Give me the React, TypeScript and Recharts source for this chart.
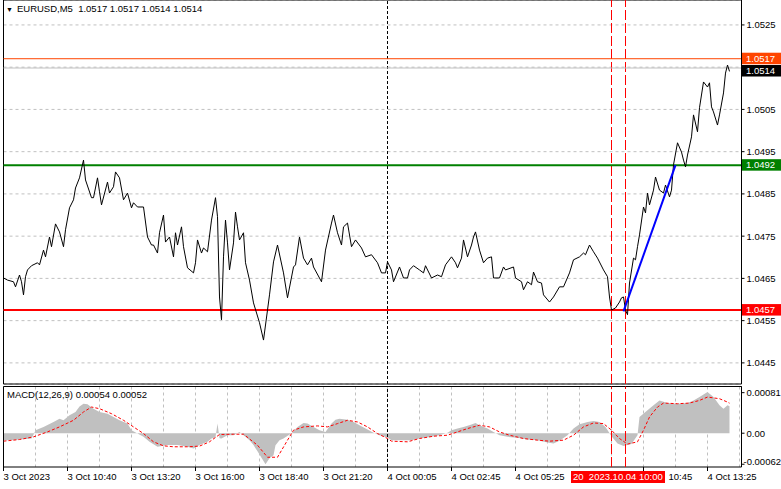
import React from 'react';
import {
  ComposedChart,
  Line,
  Area,
  XAxis,
  YAxis,
  CartesianGrid,
  ReferenceLine,
  ReferenceArea,
} from 'recharts';

const FONT = "Tahoma, 'Liberation Sans', Arial, sans-serif";

// ---- texts ----
const symbolTitle = 'EURUSD,M5  1.0517 1.0517 1.0514 1.0514';
const macdTitle = 'MACD(12,26,9) 0.00054 0.00052';
const crosshairLabel = '20  2023.10.04 10:00';

// ---- time axis (bar index, 5 minute bars) ----
const timeLabels: [number, string][] = [
  [0, '3 Oct 2023'],
  [32, '3 Oct 10:40'],
  [64, '3 Oct 13:20'],
  [96, '3 Oct 16:00'],
  [128, '3 Oct 18:40'],
  [160, '3 Oct 21:20'],
  [192, '4 Oct 00:05'],
  [224, '4 Oct 02:45'],
  [256, '4 Oct 05:25'],
  [320, '10:45'],
  [352, '4 Oct 13:25'],
];
const gridBars = [0, 16, 32, 48, 64, 80, 96, 112, 128, 144, 160, 176, 192, 208, 224, 240, 256, 272, 288, 304, 320, 336, 352, 368];
const barDomain: [number, number] = [0, 369];
const daySeparatorBar = 192;
const markerBars = [304, 311];

// ---- price axis ----
const priceTicks = [1.0445, 1.0455, 1.0465, 1.0475, 1.0485, 1.0495, 1.0505, 1.0515, 1.0525];
const hiddenPriceTick = 1.0515;
const priceDomain: [number, number] = [1.044, 1.05309];

// ---- levels ----
const askLevel = 1.0517;
const bidLevel = 1.05148;
const resistanceLevel = 1.04918;
const supportLevel = 1.04575;

// ---- close prices, day 3 Oct [bar, close] ----
const closesOct3: [number, number][] = [
  [0, 1.04651], [2, 1.04646], [5, 1.04642], [6, 1.0463], [8, 1.04658], [9, 1.04642], [10, 1.04611],
  [11, 1.04654], [12, 1.0467], [14, 1.0468], [17, 1.04687], [18, 1.04682], [20, 1.04717], [21, 1.04701],
  [23, 1.04748], [24, 1.04725], [26, 1.04779], [28, 1.0476], [30, 1.04725], [31, 1.04765], [33, 1.04817],
  [35, 1.04836], [36, 1.04864], [38, 1.04888], [40, 1.0493], [41, 1.04883], [44, 1.04841], [45, 1.04841],
  [47, 1.04888], [48, 1.04855], [49, 1.04824], [52, 1.04878], [53, 1.04852], [55, 1.04867], [56, 1.04902],
  [58, 1.04888], [60, 1.04836], [62, 1.04852], [64, 1.04817], [65, 1.04829], [67, 1.04819], [70, 1.04819],
  [72, 1.04748], [74, 1.04729], [75, 1.04729], [77, 1.0471], [78, 1.04758], [80, 1.048], [81, 1.04736],
  [83, 1.04748], [85, 1.04701], [86, 1.04758], [87, 1.04729], [89, 1.04772], [90, 1.04725], [92, 1.04675],
  [95, 1.04663], [96, 1.04687], [97, 1.04741], [99, 1.0471], [100, 1.04722], [102, 1.04713], [104, 1.04788],
  [106, 1.04841], [107, 1.04796], [108, 1.04606], [109, 1.04552], [110, 1.04701], [111, 1.04788], [112, 1.04734],
  [113, 1.0467], [115, 1.04734], [116, 1.04807], [117, 1.04772], [118, 1.04741], [120, 1.04758], [121, 1.04687],
  [123, 1.04646], [125, 1.04592], [128, 1.04545], [130, 1.04504], [132, 1.04575], [133, 1.04611], [135, 1.04689],
  [137, 1.04729], [140, 1.04663], [142, 1.04604], [145, 1.04677], [146, 1.04682], [148, 1.04748], [150, 1.04698],
  [152, 1.04682], [154, 1.04698], [155, 1.04677], [159, 1.04642], [161, 1.04717], [164, 1.04781], [165, 1.048],
  [167, 1.04758], [169, 1.04729], [170, 1.04772], [172, 1.04781], [174, 1.04725], [176, 1.04741], [179, 1.04722],
  [181, 1.04701], [184, 1.04706], [187, 1.04687], [189, 1.04663], [191, 1.04663],
];

// ---- close prices, day 4 Oct [bar, close] ----
const closesOct4: [number, number][] = [
  [192, 1.04689], [194, 1.0467], [195, 1.04642], [198, 1.04677], [200, 1.04651], [202, 1.04651], [203, 1.0467],
  [205, 1.0468], [208, 1.0467], [210, 1.04663], [211, 1.0468], [214, 1.04651], [217, 1.04658], [219, 1.04654],
  [221, 1.04682], [224, 1.04701], [226, 1.04687], [227, 1.04675], [229, 1.04698], [230, 1.04741], [232, 1.04701],
  [234, 1.04729], [235, 1.04748], [236, 1.0476], [238, 1.04717], [240, 1.04687], [242, 1.04698], [244, 1.04701],
  [245, 1.04651], [248, 1.04651], [250, 1.04677], [251, 1.0467], [255, 1.04677], [256, 1.04651], [259, 1.04642],
  [260, 1.04623], [262, 1.04642], [264, 1.04635], [265, 1.04665], [267, 1.04642], [269, 1.04639], [270, 1.04611],
  [273, 1.04594], [275, 1.04606], [278, 1.0463], [280, 1.0463], [283, 1.04663], [285, 1.04694], [288, 1.04701],
  [290, 1.0471], [291, 1.04706], [293, 1.04729], [295, 1.04713], [297, 1.04698], [300, 1.0467], [302, 1.04654],
  [303, 1.04606], [304, 1.04575], [306, 1.0458], [308, 1.04594], [309, 1.04604], [310, 1.04606], [311, 1.04575],
  [312, 1.04564], [313, 1.04639], [315, 1.04698], [316, 1.04694], [317, 1.04725], [318, 1.04753], [320, 1.04819],
  [321, 1.04805], [322, 1.04852], [323, 1.04824], [325, 1.04859], [326, 1.0489], [328, 1.04859], [330, 1.04852],
  [331, 1.04871], [333, 1.04843], [334, 1.04859], [335, 1.04919], [337, 1.04971], [339, 1.04949], [340, 1.0493],
  [341, 1.04914], [342, 1.04942], [344, 1.04985], [345, 1.05037], [347, 1.04997], [348, 1.05054], [350, 1.05115],
  [352, 1.05103], [353, 1.05113], [354, 1.05056], [355, 1.05044], [357, 1.05013], [358, 1.05037], [360, 1.05089],
  [361, 1.05136], [362, 1.05155], [363, 1.0514],
];

// ---- trend line drawn on chart [bar, price] ----
const trendLine: [number, number][] = [
  [310, 1.04572],
  [336, 1.04918],
];

// ---- MACD main (histogram) [bar, value] ----
const macdMain: [number, number][] = [
  [0, -0.00014], [4, -0.00014], [8, -0.000126], [14, -0.000106], [15, -0.00003], [16, 0.00006], [20, 0.000126],
  [25, 0.000225], [28, 0.000291], [30, 0.000258], [33, 0.000357], [36, 0.000424], [38, 0.000536], [40, 0.000589],
  [42, 0.000576], [45, 0.00049], [48, 0.000424], [52, 0.00039], [55, 0.000324], [58, 0.000258], [62, 0.000192],
  [64, 0.00006], [67, -0.000007], [70, -0.000073], [73, -0.000172], [77, -0.000271], [82, -0.000238],
  [87, -0.000238], [92, -0.000271], [95, -0.000305], [98, -0.000238], [102, -0.000172], [104, -0.000106],
  [106, -0.00008], [107, 0.000192], [108, -0.0001], [109, -0.000106], [112, -0.00004], [115, -0.00004],
  [118, 0.000026], [122, -0.000106], [123, -0.00014], [125, -0.000238], [127, -0.00036], [131, -0.00062],
  [133, -0.0005], [135, -0.00044], [136, -0.00024], [138, -0.00014], [140, -0.000106], [144, 0], [147, 0.000126],
  [150, 0.000205], [152, 0.000192], [155, 0.000126], [158, 0.00006], [161, 0.000026], [164, 0.000192],
  [166, 0.000271], [168, 0.000291], [172, 0.000271], [175, 0.000225], [178, 0.000159], [182, 0.000073],
  [185, 0.000007], [188, -0.00004], [192, -0.000086], [194, -0.000139], [198, -0.000139], [204, -0.000139],
  [208, -0.000106], [214, -0.000073], [218, -0.00004], [222, 0.000007], [224, 0.00006], [227, 0.000093],
  [230, 0.000126], [234, 0.000172], [236, 0.000205], [238, 0.000159], [242, 0.000093], [245, 0.000026],
  [248, -0.00004], [252, -0.000073], [257, -0.000093], [262, -0.000126], [267, -0.000139], [272, -0.000185],
  [275, -0.000205], [278, -0.000152], [282, -0.00004], [285, 0.000093], [288, 0.000179], [292, 0.000225],
  [295, 0.000245], [298, 0.000225], [301, 0.000126], [304, -0.00006], [307, -0.000205], [310, -0.000258],
  [314, -0.000218], [317, -0.00004], [318, 0.000324], [322, 0.000457], [325, 0.000556], [328, 0.000655],
  [332, 0.000602], [337, 0.000589], [342, 0.000602], [345, 0.000655], [348, 0.000722], [352, 0.000821],
  [355, 0.000722], [358, 0.000556], [360, 0.00049], [362, 0.000556], [363, 0.00054],
];

// ---- MACD signal [bar, value] ----
const macdSignal: [number, number][] = [
  [0, -0.000159], [8, -0.000126], [15, -0.000073], [22, 0.000026], [28, 0.000126], [35, 0.000258], [40, 0.000424],
  [44, 0.000523], [48, 0.00049], [54, 0.00039], [60, 0.000258], [65, 0.000126], [70, -0.000007], [75, -0.000172],
  [80, -0.000252], [85, -0.000271], [92, -0.000271], [98, -0.000258], [103, -0.000172], [108, -0.000026],
  [115, -0.00002], [120, -0.00002], [127, -0.00024], [132, -0.00048], [137, -0.00048], [142, -0.00014],
  [145, 0.00006], [150, 0.000126], [157, 0.000146], [162, 0.000126], [167, 0.000192], [172, 0.000258],
  [177, 0.000225], [182, 0.000126], [187, -0.000007], [192, -0.000106], [194, -0.000159], [202, -0.000172],
  [208, -0.000106], [215, -0.00006], [222, -0.00004], [227, 0.000026], [232, 0.000093], [238, 0.000159],
  [243, 0.000126], [248, 0.000026], [253, -0.00004], [260, -0.000106], [267, -0.000139], [273, -0.000159],
  [280, -0.000139], [285, -0.00004], [290, 0.000126], [295, 0.000205], [300, 0.000192], [304, 0.00006],
  [308, -0.000106], [312, -0.000218], [317, -0.000172], [320, 0.00006], [323, 0.000324], [327, 0.000523],
  [330, 0.000602], [337, 0.000589], [343, 0.000602], [348, 0.000655], [352, 0.000722], [358, 0.000689],
  [362, 0.000622], [363, 0.0006],
];

const macdTicks = [-0.00062, 0, 0.00081];
const macdDomain: [number, number] = [-0.000675, 0.000933];

// ---- build library data ----
const priceData = [...closesOct3, ...closesOct4].map(([bar, close]) => ({ bar, close }));
const trendData = trendLine.map(([bar, v]) => ({ bar, v }));
const histData = macdMain.map(([bar, hist]) => ({ bar, hist }));
const signalData = macdSignal.map(([bar, sig]) => ({ bar, sig }));
const labelMap = new Map<number, string>(timeLabels);

const GRID = '#c0c0c0';
const FS = 9.5;

const PriceTick = (props: any) => {
  const { x, y, payload } = props;
  if (Math.abs(payload.value - hiddenPriceTick) < 1e-7) return <g />;
  return (
    <text x={x} y={y} dy={3.5} fontSize={FS} fontFamily={FONT} fill="#000" textAnchor="start">
      {payload.value.toFixed(4)}
    </text>
  );
};

const MacdTick = (props: any) => {
  const { x, y, payload } = props;
  const v = payload.value;
  const s = v === 0 ? '0.00' : v.toFixed(5);
  const neg = v < 0;
  return (
    <text
      x={neg ? x - 3 : x}
      y={neg ? y - 3 : y}
      dy={3.5}
      fontSize={FS}
      fontFamily={FONT}
      fill="#000"
      textAnchor="start"
    >
      {s}
    </text>
  );
};

const TimeTick = (props: any) => {
  const { x, y, payload } = props;
  const label = labelMap.get(payload.value);
  if (!label) return <g />;
  const partial = label.indexOf('Oct') < 0;
  return (
    <g>
      <line x1={x} x2={x} y1={y - 4} y2={y} stroke="#000" strokeWidth={1} />
      <text x={partial ? x + 25 : x} y={y + 9} fontSize={FS} fontFamily={FONT} fill="#000" textAnchor="start">
        {label}
      </text>
    </g>
  );
};

const makeTag = (text: string, bg: string, shift: number) => (p: any) => {
  const vb = p && p.viewBox;
  if (!vb) return null;
  const x = vb.x + vb.width + 0.5;
  const y = vb.y + shift;
  return (
    <g>
      <rect x={x} y={y - 6} width={42} height={11.5} fill={bg} />
      <text x={x + 4} y={y + 3.2} fontSize={FS} fontFamily={FONT} fill="#fff">
        {text}
      </text>
    </g>
  );
};

export default function App() {
  return (
    <div
      style={{
        position: 'absolute',
        left: 0,
        top: 0,
        width: 781,
        height: 489,
        background: '#fff',
        fontFamily: FONT,
        overflow: 'hidden',
      }}
    >
      <div style={{ position: 'absolute', left: 0, top: 0 }}>
        <ComposedChart width={781} height={385} margin={{ top: 0, right: 0, bottom: 1, left: 3.5 }}>
          <CartesianGrid stroke={GRID} strokeDasharray="3 3" />
          <XAxis
            type="number"
            dataKey="bar"
            domain={barDomain}
            allowDataOverflow
            ticks={gridBars}
            height={0}
            tick={false}
            tickLine={false}
            axisLine={false}
          />
          <YAxis
            orientation="right"
            type="number"
            domain={priceDomain}
            allowDataOverflow
            ticks={priceTicks}
            width={39.5}
            tickSize={3}
            tickMargin={2}
            axisLine={{ stroke: '#000' }}
            tickLine={{ stroke: '#000' }}
            tick={<PriceTick />}
            interval={0}
          />
          <ReferenceLine x={daySeparatorBar} stroke="#000" strokeDasharray="3 2" />
          {markerBars.map((b) => (
            <ReferenceLine key={b} x={b} stroke="#ff0000" strokeDasharray="10 3" />
          ))}
          <ReferenceLine y={bidLevel} stroke="#c0c0c0" strokeWidth={1} label={makeTag('1.0514', '#000000', 3)} />
          <ReferenceLine y={askLevel} stroke="#ff4500" strokeWidth={1} label={makeTag('1.0517', '#ff4500', 0)} />
          <ReferenceLine y={resistanceLevel} stroke="#008000" strokeWidth={2} label={makeTag('1.0492', '#008000', 0)} />
          <ReferenceLine y={supportLevel} stroke="#ff0000" strokeWidth={2} label={makeTag('1.0457', '#ff0000', 0)} />
          <Line
            data={priceData}
            dataKey="close"
            type="linear"
            stroke="#000"
            strokeWidth={1}
            dot={false}
            isAnimationActive={false}
          />
          <Line
            data={trendData}
            dataKey="v"
            type="linear"
            stroke="#0000ff"
            strokeWidth={2}
            dot={false}
            isAnimationActive={false}
          />
          <ReferenceArea
            x1={barDomain[0]}
            x2={barDomain[1]}
            y1={priceDomain[0]}
            y2={priceDomain[1]}
            fill="none"
            fillOpacity={0}
            stroke="#000"
            strokeWidth={1}
          />
        </ComposedChart>
      </div>

      <div style={{ position: 'absolute', left: 0, top: 385 }}>
        <ComposedChart width={781} height={104} margin={{ top: 1.5, right: 0, bottom: 0, left: 3.5 }}>
          <CartesianGrid stroke={GRID} strokeDasharray="3 3" horizontal={false} />
          <XAxis
            type="number"
            dataKey="bar"
            domain={barDomain}
            allowDataOverflow
            ticks={gridBars}
            interval={0}
            height={22}
            tickSize={4}
            tickMargin={0}
            tickLine={false}
            axisLine={false}
            tick={<TimeTick />}
          />
          <YAxis
            orientation="right"
            type="number"
            domain={macdDomain}
            allowDataOverflow
            ticks={macdTicks}
            interval={0}
            width={39.5}
            tickSize={3}
            tickMargin={2}
            axisLine={{ stroke: '#000' }}
            tickLine={{ stroke: '#000' }}
            tick={<MacdTick />}
          />
          <Area
            data={histData}
            dataKey="hist"
            type="linear"
            baseValue={0}
            fill="#c0c0c0"
            fillOpacity={1}
            stroke="none"
            isAnimationActive={false}
          />
          <ReferenceLine x={daySeparatorBar} stroke="#000" strokeDasharray="3 2" />
          {markerBars.map((b) => (
            <ReferenceLine key={b} x={b} stroke="#ff0000" strokeDasharray="10 3" />
          ))}
          <Line
            data={signalData}
            dataKey="sig"
            type="linear"
            stroke="#ff0000"
            strokeWidth={1}
            strokeDasharray="3 2"
            dot={false}
            isAnimationActive={false}
          />
          <ReferenceArea
            x1={barDomain[0]}
            x2={barDomain[1]}
            y1={macdDomain[0]}
            y2={macdDomain[1]}
            fill="none"
            fillOpacity={0}
            stroke="#000"
            strokeWidth={1}
          />
        </ComposedChart>
      </div>

      {/* panel titles */}
      <div
        style={{
          position: 'absolute',
          left: 6,
          top: 3,
          fontSize: FS,
          lineHeight: '12px',
          whiteSpace: 'pre',
          color: '#000',
        }}
      >
        <span style={{ fontSize: 7, marginRight: 4 }}>▼</span>
        {symbolTitle}
      </div>
      <div
        style={{
          position: 'absolute',
          left: 7,
          top: 389,
          fontSize: FS,
          lineHeight: '12px',
          whiteSpace: 'pre',
          color: '#000',
        }}
      >
        {macdTitle}
      </div>

      {/* crosshair time label */}
      <div
        style={{
          position: 'absolute',
          left: 571,
          top: 471,
          width: 94,
          height: 12,
          background: '#ff0000',
          color: '#fff',
          fontSize: FS,
          lineHeight: '12px',
          whiteSpace: 'pre',
          paddingLeft: 2,
          boxSizing: 'border-box',
        }}
      >
        {crosshairLabel}
      </div>
    </div>
  );
}
